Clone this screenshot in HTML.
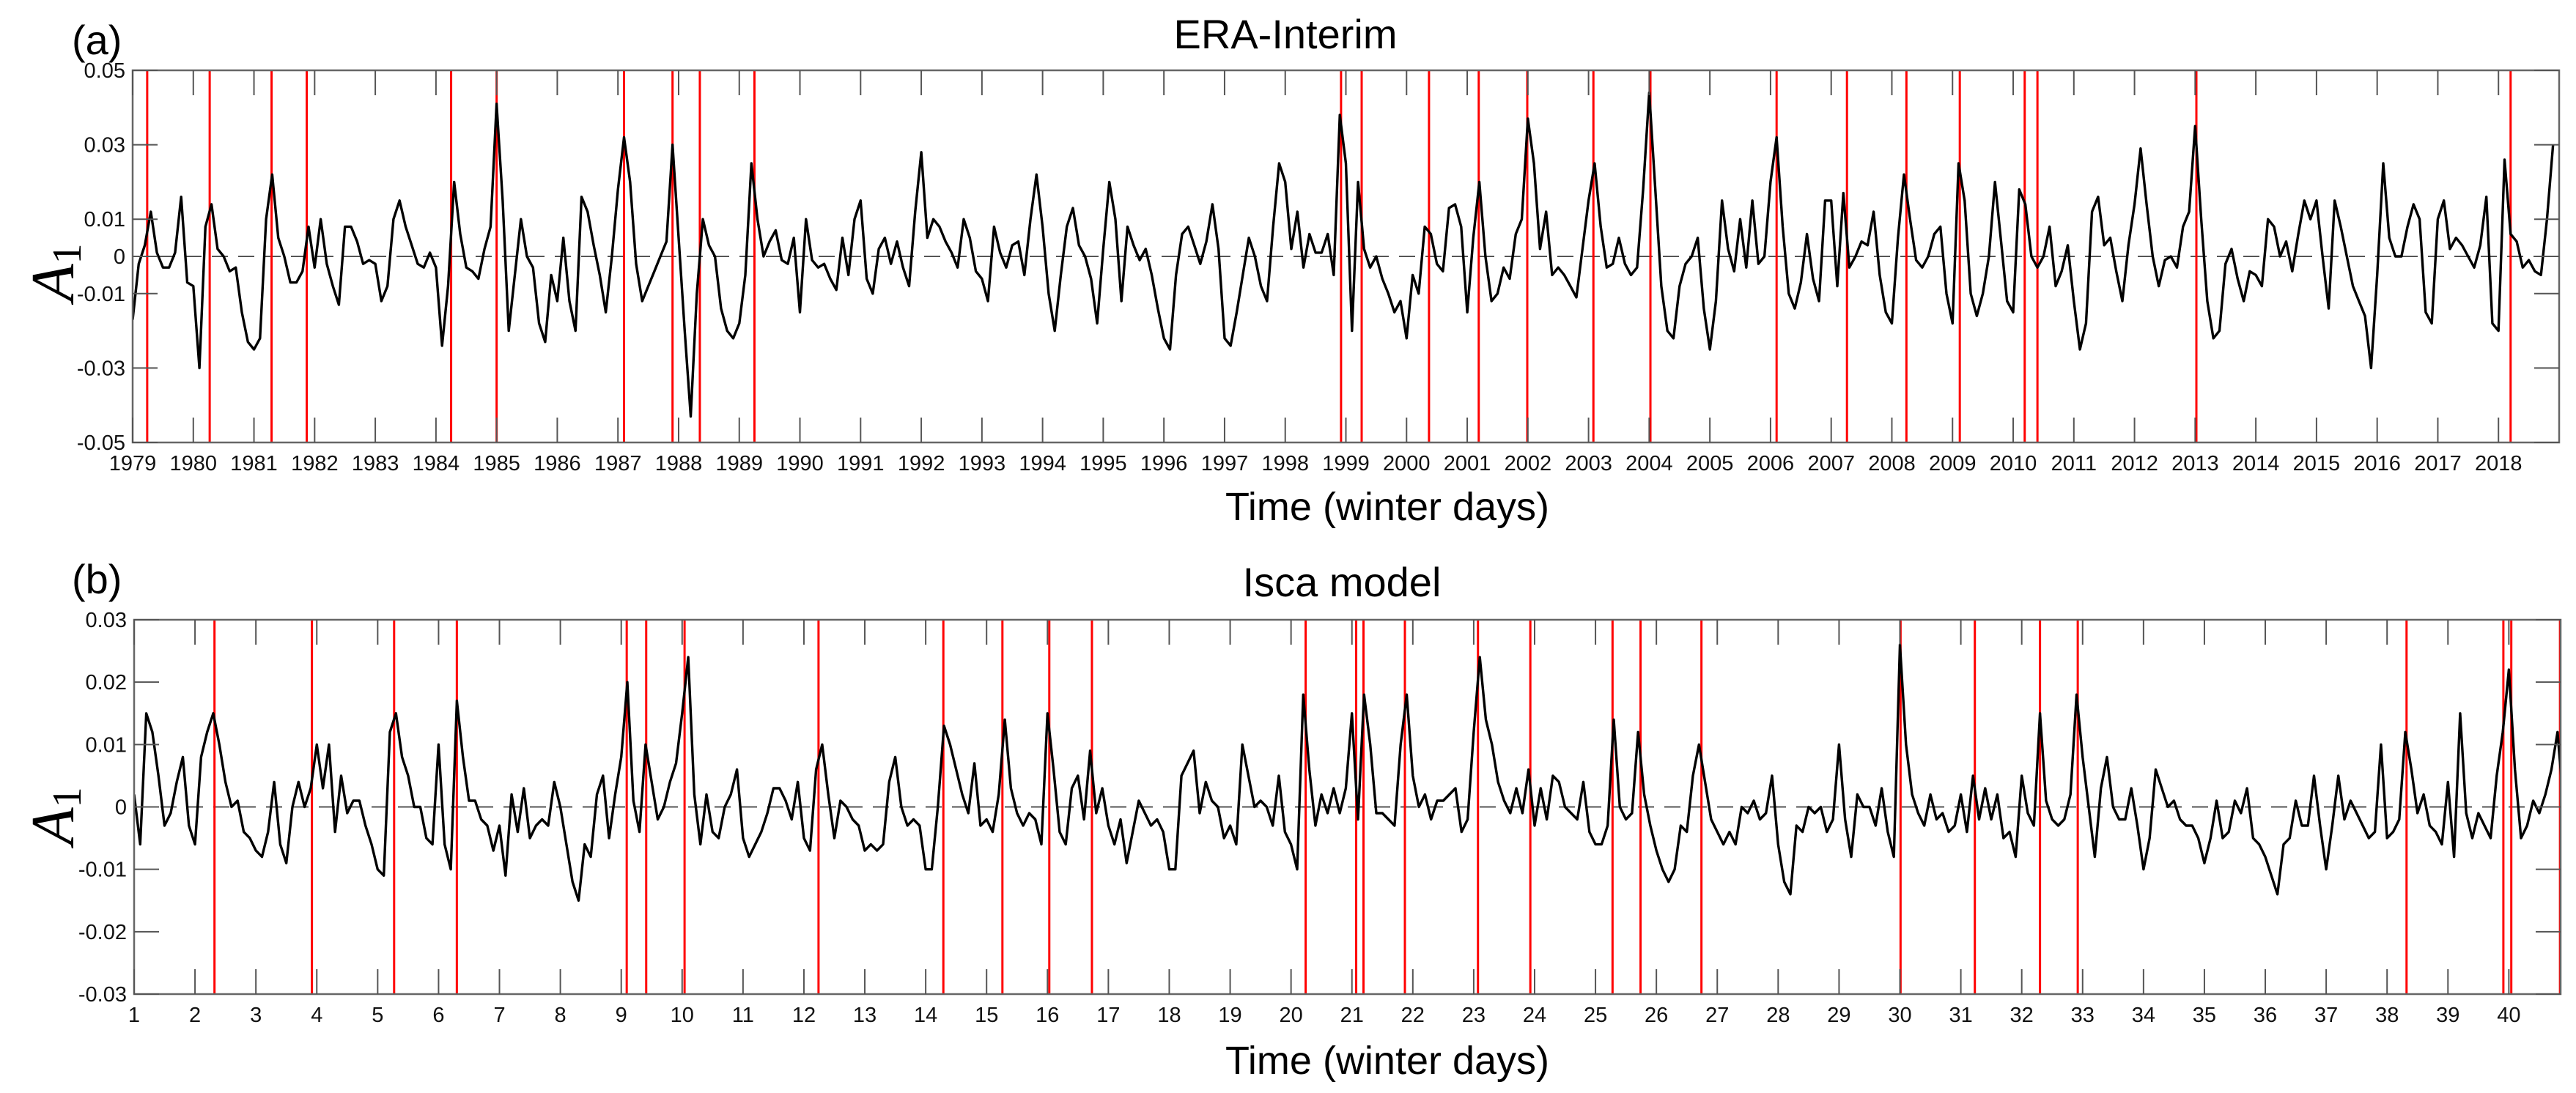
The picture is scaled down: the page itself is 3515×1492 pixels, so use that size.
<!DOCTYPE html>
<html><head><meta charset="utf-8"><style>
html,body{margin:0;padding:0;background:#fff;}
svg{display:block;font-family:"Liberation Sans",Arial,sans-serif;}
</style></head><body>
<svg id="fig" width="3515" height="1492" viewBox="0 0 3515 1492" xmlns="http://www.w3.org/2000/svg">
<rect x="0" y="0" width="3515" height="1492" fill="#fff"/>
<g id="pa"></g>
<g id="pb"></g>
<text x="98" y="74" font-size="56">(a)</text>
<text x="1754" y="66" font-size="56" text-anchor="middle">ERA-Interim</text>
<text x="1893" y="710" font-size="54" text-anchor="middle">Time (winter days)</text>
<text x="98" y="810" font-size="56">(b)</text>
<text x="1831" y="814" font-size="56" text-anchor="middle">Isca model</text>
<text x="1893" y="1466" font-size="54" text-anchor="middle">Time (winter days)</text>
<text transform="translate(100,372) rotate(-90)" font-size="84" text-anchor="middle" font-family="Liberation Serif,serif"><tspan font-style="italic">A</tspan><tspan font-size="56" dy="10">1</tspan></text>
<text transform="translate(100,1114) rotate(-90)" font-size="84" text-anchor="middle" font-family="Liberation Serif,serif"><tspan font-style="italic">A</tspan><tspan font-size="56" dy="10">1</tspan></text>
</svg>
<script>
// ---- Panel (a) data: ERA-Interim, 10 samples per winter, units of 0.001 ----
const aStart = 1979;
const aValues = [
-17,-2,3,12,1,-3,-3,1,16,-7,
-8,-30,8,14,2,0,-4,-3,-15,-23,
-25,-22,10,22,5,0,-7,-7,-4,8,
-3,10,-2,-8,-13,8,8,4,-2,-1,
-2,-12,-8,10,15,8,3,-2,-3,1,
-3,-24,-8,20,6,-3,-4,-6,2,8,
41,15,-20,-5,10,0,-3,-18,-23,-5,
-12,5,-12,-20,16,12,3,-5,-15,0,
18,32,20,-2,-12,-8,-4,0,4,30,
5,-20,-43,-10,10,3,0,-14,-20,-22,
-18,-5,25,10,0,4,7,-1,-2,5,
-15,10,-1,-3,-2,-6,-9,5,-5,10,
15,-6,-10,2,5,-2,4,-3,-8,12,
28,5,10,8,4,1,-3,10,5,-4,
-6,-12,8,1,-3,3,4,-5,10,22,
8,-10,-20,-5,8,13,3,0,-6,-18,
2,20,10,-12,8,3,-1,2,-5,-14,
-22,-25,-5,6,8,3,-2,4,14,2,
-22,-24,-15,-5,5,0,-8,-12,8,25,
20,2,12,-3,6,1,1,6,-5,38,
25,-20,20,2,-3,0,-6,-10,-15,-12,
-22,-5,-10,8,6,-2,-4,13,14,8,
-15,5,20,0,-12,-10,-3,-6,6,10,
37,25,2,12,-5,-3,-5,-8,-11,2,
15,25,8,-3,-2,5,-2,-5,-3,18,
44,18,-8,-20,-22,-8,-2,0,5,-14,
-25,-12,15,2,-4,10,-3,15,-2,0,
20,32,8,-10,-14,-7,6,-6,-12,15,
15,-8,17,-3,0,4,3,12,-5,-15,
-18,5,22,10,-1,-3,0,6,8,-10,
-18,25,15,-10,-16,-10,0,20,4,-12,
-15,18,14,0,-3,0,8,-8,-4,3,
-12,-25,-18,12,16,3,5,-4,-12,3,
14,29,14,0,-8,-1,0,-3,8,12,
35,10,-12,-22,-20,-2,2,-6,-12,-4,
-5,-8,10,8,0,4,-4,6,15,10,
15,0,-14,15,8,0,-8,-12,-16,-30,
-5,25,5,0,0,8,14,10,-15,-18,
10,15,2,5,3,0,-3,3,16,-18,
-20,26,6,4,-3,-1,-4,-5,10,30
];
const aEvents = [1979.24,1980.27,1981.29,1981.87,1984.25,1985.0,1987.1,1987.9,1988.35,1989.25,1998.92,1999.26,2000.37,2001.19,2001.99,2003.08,2004.02,2006.1,2007.26,2008.24,2009.12,2010.19,2010.4,2013.02,2018.2];
const aXTicks = [1979,1980,1981,1982,1983,1984,1985,1986,1987,1988,1989,1990,1991,1992,1993,1994,1995,1996,1997,1998,1999,2000,2001,2002,2003,2004,2005,2006,2007,2008,2009,2010,2011,2012,2013,2014,2015,2016,2017,2018];
const aYTicks = [0.05,0.03,0.01,0,-0.01,-0.03,-0.05];
const aYLabels = ["0.05","0.03","0.01","0","-0.01","-0.03","-0.05"];

// ---- Panel (b) data: Isca model ----
const bStart = 1;
const bValues = [
2,-6,15,12,5,-3,-1,4,8,-3,
-6,8,12,15,10,4,0,1,-4,-5,
-7,-8,-4,4,-6,-9,0,4,0,3,
10,3,10,-4,5,-1,1,1,-3,-6,
-10,-11,12,15,8,5,0,0,-5,-6,
10,-6,-10,17,8,1,1,-2,-3,-7,
-3,-11,2,-4,3,-5,-3,-2,-3,4,
0,-6,-12,-15,-6,-8,2,5,-5,2,
8,20,1,-4,10,4,-2,0,4,7,
15,24,2,-6,2,-4,-5,0,2,6,
-5,-8,-6,-4,-1,3,3,1,-2,4,
-5,-7,6,10,2,-5,1,0,-2,-3,
-7,-6,-7,-6,4,8,0,-3,-2,-3,
-10,-10,0,13,10,6,2,-1,7,-3,
-2,-4,2,14,3,-1,-3,-1,-2,-6,
15,6,-4,-6,3,5,-2,9,-1,3,
-3,-6,-2,-9,-4,1,-1,-3,-2,-4,
-10,-10,5,7,9,-1,4,1,0,-5,
-3,-6,10,5,0,1,0,-3,5,-4,
-6,-10,18,6,-3,2,-1,3,-1,3,
15,-2,18,10,-1,-1,-2,-3,10,18,
5,0,2,-2,1,1,2,3,-4,-2,
12,24,14,10,4,1,-1,3,-1,6,
-3,3,-2,5,4,0,-1,-2,4,-4,
-6,-6,-3,14,0,-2,-1,12,2,-3,
-7,-10,-12,-10,-3,-4,5,10,4,-2,
-4,-6,-4,-6,0,-1,1,-2,-1,5,
-6,-12,-14,-3,-4,0,-1,0,-4,-2,
10,-2,-8,2,0,0,-3,3,-4,-8,
26,10,2,-1,-3,2,-2,-1,-4,-3,
2,-4,5,-2,3,-2,2,-5,-4,-8,
5,-1,-3,15,1,-2,-3,-2,2,18,
8,0,-8,3,8,0,-2,-2,3,-3,
-10,-5,6,3,0,1,-2,-3,-3,-5,
-9,-5,1,-5,-4,1,-1,3,-5,-6,
-8,-11,-14,-6,-5,1,-3,-3,5,-3,
-10,-3,5,-2,1,-1,-3,-5,-4,10,
-5,-4,-2,12,6,-1,2,-3,-4,-6,
4,-8,15,-1,-5,-1,-3,-5,5,12,
22,6,-5,-3,1,-1,2,6,12,0
];
const bEvents = [2.32,3.92,5.27,6.3,9.09,9.41,10.04,12.24,14.29,15.26,16.03,16.73,20.24,21.07,21.19,21.87,23.07,23.93,25.28,25.74,26.74,30.01,31.23,32.3,32.92,38.32,39.91,40.04,40.84];
const bXTicks = [1,2,3,4,5,6,7,8,9,10,11,12,13,14,15,16,17,18,19,20,21,22,23,24,25,26,27,28,29,30,31,32,33,34,35,36,37,38,39,40];
const bYTicks = [0.03,0.02,0.01,0,-0.01,-0.02,-0.03];
const bYLabels = ["0.03","0.02","0.01","0","-0.01","-0.02","-0.03"];

const NS = "http://www.w3.org/2000/svg";
function mk(tag, attrs, parent) {
  const e = document.createElementNS(NS, tag);
  for (const k in attrs) e.setAttribute(k, attrs[k]);
  parent.appendChild(e);
  return e;
}

function drawPanel(g, cfg, id) {
  const xs = v => cfg.x0 + (v - cfg.xmin) / (cfg.xmax - cfg.xmin) * (cfg.x1 - cfg.x0);
  const ys = v => cfg.y0 + (cfg.ymax - v) / (cfg.ymax - cfg.ymin) * (cfg.y1 - cfg.y0);
  const defs = mk('defs', {}, g);
  const cp = mk('clipPath', {id: 'clip' + id}, defs);
  mk('rect', {x: cfg.x0, y: cfg.y0, width: cfg.x1 - cfg.x0, height: cfg.y1 - cfg.y0}, cp);

  const zl = mk('line', {x1: cfg.x0, x2: cfg.x1, y1: ys(0), y2: ys(0), stroke: '#555', 'stroke-width': 2, 'stroke-dasharray': '22,14'}, g);
  
  

  cfg.events.forEach(ev => {
    const l = mk('line', {x1: xs(ev), x2: xs(ev), y1: cfg.y0, y2: cfg.y1, stroke: '#f00', 'stroke-width': 3}, g);
    
    
  });

  let d = '';
  cfg.values.forEach((v, i) => {
    const t = cfg.start + i / 10;
    d += (i ? 'L' : 'M') + xs(t).toFixed(1) + ',' + ys(v / 1000).toFixed(1);
  });
  const p = mk('path', {d: d, fill: 'none', stroke: '#000', 'stroke-width': 3.4, 'stroke-linejoin': 'round', 'clip-path': 'url(#clip' + id + ')'}, g);
  
  

  const fr = mk('rect', {x: cfg.x0, y: cfg.y0, width: cfg.x1 - cfg.x0, height: cfg.y1 - cfg.y0, fill: 'none', stroke: '#666', 'stroke-width': 2.5}, g);
  
  

  cfg.xticks.forEach(t => {
    const x = xs(t);
    mk('line', {x1: x, x2: x, y1: cfg.y1, y2: cfg.y1 - 34, stroke: '#555', 'stroke-width': 2}, g);
    mk('line', {x1: x, x2: x, y1: cfg.y0, y2: cfg.y0 + 34, stroke: '#555', 'stroke-width': 2}, g);
    const tx = mk('text', {x: x, y: cfg.y1 + 38, 'font-size': 29, 'text-anchor': 'middle', fill: '#111'}, g);
    tx.textContent = String(t);
    
    
  });
  cfg.yticks.forEach((t, i) => {
    const y = ys(t);
    mk('line', {x1: cfg.x0, x2: cfg.x0 + 34, y1: y, y2: y, stroke: '#555', 'stroke-width': 2}, g);
    mk('line', {x1: cfg.x1, x2: cfg.x1 - 34, y1: y, y2: y, stroke: '#555', 'stroke-width': 2}, g);
    const tx = mk('text', {x: cfg.x0 - 10, y: y + 10, 'font-size': 29, 'text-anchor': 'end', fill: '#111'}, g);
    tx.textContent = cfg.ylabels[i];
    
    
  });
}

drawPanel(document.getElementById('pa'), {
  x0: 181, x1: 3492, y0: 96, y1: 604, xmin: 1979, xmax: 2019, ymin: -0.05, ymax: 0.05,
  values: aValues, start: aStart, events: aEvents, xticks: aXTicks, yticks: aYTicks, ylabels: aYLabels
}, 'a');
drawPanel(document.getElementById('pb'), {
  x0: 183, x1: 3494, y0: 846, y1: 1357, xmin: 1, xmax: 40.85, ymin: -0.03, ymax: 0.03,
  values: bValues, start: bStart, events: bEvents, xticks: bXTicks, yticks: bYTicks, ylabels: bYLabels
}, 'b');
</script>
</body></html>
